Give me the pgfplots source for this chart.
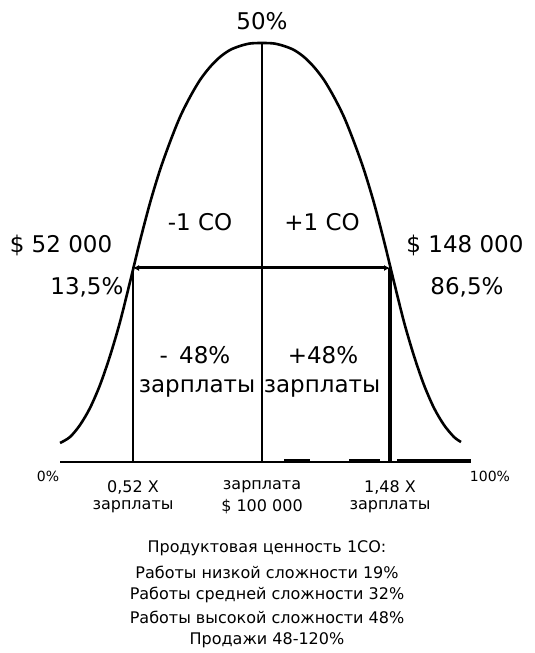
\documentclass[border=0pt]{standalone}
\usepackage{pgfplots}
\pgfplotsset{compat=1.18}
\usepackage{fontspec}
\setmainfont{DejaVu Sans}
\usetikzlibrary{arrows.meta}
\newcommand{\fbig}{\fontsize{23}{27}\selectfont}
\newcommand{\fmid}{\fontsize{16}{19}\selectfont}
\newcommand{\fsml}{\fontsize{14}{17}\selectfont}
\begin{document}
\begin{tikzpicture}
\begin{axis}[
  scale only axis, width=535pt, height=653pt,
  xmin=-262, xmax=273, ymin=-191, ymax=462,
  axis lines=none, clip=false,
]
% invisible frame for bounding box
\addplot[draw=none] coordinates {(-262,-191) (273,462)};
% bell curve
\addplot[black, line width=2.6pt, smooth] coordinates {
(-202,19) (-192,25) (-182,37) (-172,54) (-162,77) (-152,106) (-142,140)
(-132,180) (-122,221) (-112,259) (-102,292) (-92,320) (-82,345) (-72,365)
(-62,382) (-52,395) (-42,405) (-32,412) (-22,416) (-12,418.5) (0,419)
(12,418.5) (22,416) (32,412) (42,405) (52,395) (62,382) (72,365) (82,345)
(92,320) (102,292) (112,259) (122,221) (132,180) (142,140) (152,106)
(162,77) (172,54) (182,37) (192,25) (199,20)};
% baseline
\addplot[black, line width=2.3pt] coordinates {(-202,0) (208,0)};
\addplot[black, line width=3.5pt] coordinates {(22,1) (48,1)};
\addplot[black, line width=3.5pt] coordinates {(87,1) (118,1)};
\addplot[black, line width=3.5pt] coordinates {(135,1) (209,1)};
% vertical lines
\addplot[black, line width=1.6pt] coordinates {(-129,0) (-129,194)};
\addplot[black, line width=1.6pt] coordinates {(0,0) (0,419)};
\addplot[black, line width=3.2pt] coordinates {(128,0) (128,194)};
% arrow
\addplot[black, line width=3pt, {Latex[length=6pt,width=6pt]}-{Latex[length=6pt,width=6pt]}] coordinates {(-129,194) (128,194)};
% texts
\node[font=\fbig] at (0,441) {50\%};
\node[font=\fbig] at (-62,240) {-1 СО};
\node[font=\fbig] at (60,240) {+1 СО};
\node[font=\fbig] at (-201,217) {\$ 52 000};
\node[font=\fbig, anchor=east] at (-135,175) {13,5\%};
\node[font=\fbig] at (203,217) {\$ 148 000};
\node[font=\fbig] at (205,175) {86,5\%};
\node[font=\fbig] at (-67,107) {-\, 48\%};
\node[font=\fbig] at (-65,74) {зарплаты};
\node[font=\fbig] at (61,107) {+48\%};
\node[font=\fbig] at (60,74) {зарплаты};
\node[font=\fsml] at (-214,-14) {0\%};
\node[font=\fsml] at (228,-14) {100\%};
\node[font=\fmid] at (-129,-25) {0,52 X};
\node[font=\fmid] at (-129,-45) {зарплаты};
\node[font=\fmid] at (0,-25) {зарплата};
\node[font=\fmid] at (0,-45) {\$ 100 000};
\node[font=\fmid] at (128,-25) {1,48 X};
\node[font=\fmid] at (128,-45) {зарплаты};
\node[font=\fmid] at (5,-86) {Продуктовая ценность 1СО:};
\node[font=\fmid] at (5,-110) {Работы низкой сложности 19\%};
\node[font=\fmid] at (5,-133) {Работы средней сложности 32\%};
\node[font=\fmid] at (5,-155) {Работы высокой сложности 48\%};
\node[font=\fmid] at (5,-178) {Продажи 48-120\%};
\end{axis}
\end{tikzpicture}
\end{document}
